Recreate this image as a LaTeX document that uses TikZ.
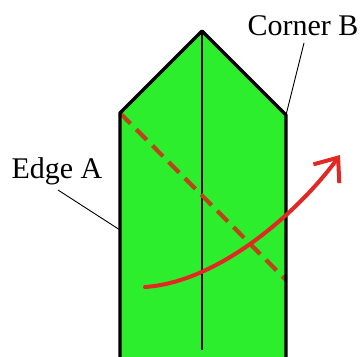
\documentclass[tikz,border=0pt]{standalone}
\usepackage{fontspec}
\setmainfont{Liberation Serif}
\usetikzlibrary{arrows.meta}
\definecolor{paper}{RGB}{45,238,45}
\definecolor{dashred}{RGB}{185,70,25}
\definecolor{arrowred}{RGB}{225,40,35}
\tikzset{
  outline/.style={line width=3.4pt, line join=round},
  crease/.style={line width=1.3pt},
  foldline/.style={dashred, line width=4.2pt, dash pattern=on 15pt off 8pt},
  movearrow/.style={arrowred, line width=4pt, line cap=round, -{Straight Barb[length=20pt,width=32pt,line width=4pt]}},
  leader/.style={line width=0.9pt},
  lab/.style={font=\fontsize{30}{33}\selectfont, inner sep=1pt}
}
\begin{document}
\begin{tikzpicture}[x=1pt,y=-1pt]
\useasboundingbox (0,0) rectangle (361,356);
\coordinate (bl) at (120,358);
\coordinate (cl) at (120,113);
\coordinate (apex) at (202,31);
\coordinate (cr) at (286,115);
\coordinate (br) at (286,358);
\coordinate (ctop) at (202,33);
\coordinate (cbot) at (202,350);
\coordinate (dend) at (286,280);
\coordinate (astart) at (145,287);
\coordinate (atip) at (340,155);
\coordinate (edgept) at (120,230);
\fill[paper] (bl) -- (cl) -- (apex) -- (cr) -- (br) -- cycle;
\draw[crease] (ctop) -- (cbot);
\draw[foldline] (cl) -- (dend);
\draw[outline] (bl) -- (cl) -- (apex) -- (cr) -- (br);
\draw[movearrow] (astart) .. controls (220,282) and (300,210) .. (atip);
\node[lab] (cornerB) at (303,26) {Corner B};
\node[lab] (edgeA) at (57,171) {Edge A};
\draw[leader] (304,43) -- (cr);
\draw[leader] (58,190) -- (edgept);
\end{tikzpicture}
\end{document}
